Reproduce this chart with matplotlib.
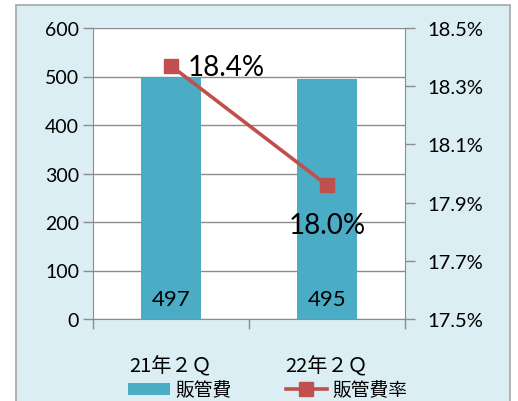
import matplotlib
matplotlib.use("Agg")
import matplotlib.pyplot as plt
from matplotlib.patches import Rectangle, Patch
from matplotlib.lines import Line2D

categories = ["21年２Ｑ", "22年２Ｑ"]
sga = [497, 495]
sga_rate = [18.37, 17.96]
legend_labels = ["販管費", "販管費率"]
left_ticks = [0, 100, 200, 300, 400, 500, 600]
right_ticks = [17.5, 17.7, 17.9, 18.1, 18.3, 18.5]

W, H = 518, 402
fig = plt.figure(figsize=(W / 100, H / 100), dpi=100)
fig.patch.set_facecolor("white")

# outer chart frame
fig.patches.append(Rectangle((15.5 / W, -0.05), (510 - 15.5) / W, (H - 6) / H + 0.05,
                             transform=fig.transFigure, facecolor="#DBEEF4",
                             edgecolor="#A6A6A6", linewidth=1.2, zorder=0))

LF = ["Lato", "Noto Sans CJK JP"]
JF = ["Noto Sans CJK JP", "DejaVu Sans"]
grid_c = "#8C8C8C"

x0, x1, ytop, ybot = 93, 405, 29, 320
ax = fig.add_axes([x0 / W, (H - ybot) / H, (x1 - x0) / W, (ybot - ytop) / H])
ax.set_facecolor("white")
ax.set_zorder(1)

xs = list(range(len(categories)))
bars = ax.bar(xs, sga, width=0.39, color="#4BACC6", zorder=2)
ax.set_xlim(-0.5, 1.5)
ax.set_ylim(0, 600)
ax.set_yticks(left_ticks)
ax.set_yticklabels([str(v) for v in left_ticks], family=LF, fontsize=14)
ax.yaxis.grid(True, color=grid_c, linewidth=1.0)
ax.set_axisbelow(True)
ax.tick_params(axis="y", length=7, width=1, color=grid_c, pad=3)
ax.set_xticks(xs)
ax.set_xticklabels(categories, family=JF, fontsize=14.5)
ax.tick_params(axis="x", which="major", length=0, pad=26)
ax.set_xticks([-0.5, 0.5, 1.5], minor=True)
ax.tick_params(axis="x", which="minor", length=7, width=1, color=grid_c)
for s in ["left", "right", "bottom"]:
    ax.spines[s].set_color(grid_c)
ax.spines["top"].set_visible(False)

for xi, v in zip(xs, sga):
    ax.annotate(str(v), (xi, 0), xytext=(0, 7.5), textcoords="offset points",
                ha="center", va="bottom", family=LF, fontsize=16, color="black", zorder=5)

ax2 = ax.twinx()
ax2.set_ylim(17.5, 18.5)
ax2.set_yticks(right_ticks)
ax2.set_yticklabels([f"{v:.1f}%" for v in right_ticks], family=LF, fontsize=14.5)
ax2.tick_params(axis="y", length=7, width=1, color=grid_c, pad=9)
for s in ["left", "right", "bottom", "top"]:
    ax2.spines[s].set_visible(False)
ax2.plot(xs, sga_rate, color="#C0504D", linewidth=2.6, marker="s", markersize=10,
         markeredgecolor="#C0504D", markerfacecolor="#C0504D", zorder=4)
ax2.annotate(f"{sga_rate[0]:.1f}%", (xs[0], sga_rate[0]), xytext=(12, -1),
             textcoords="offset points", ha="left", va="center",
             family=LF, fontsize=20, color="black")
ax2.annotate(f"{sga_rate[1]:.1f}%", (xs[1], sga_rate[1]), xytext=(0, -19),
             textcoords="offset points", ha="center", va="top",
             family=LF, fontsize=20, color="black")

handles = [Patch(facecolor="#4BACC6", edgecolor="none"),
           Line2D([0], [0], color="#C0504D", linewidth=2.6, marker="s", markersize=10)]
fig.legend(handles, legend_labels, loc="center", bbox_to_anchor=(268 / W, (H - 391) / H),
           ncol=2, frameon=False, prop={"family": JF, "size": 13.5},
           handlelength=2.2, handleheight=0.6, columnspacing=2.9, handletextpad=0.3,
           borderpad=0, borderaxespad=0)

fig.savefig("out.png", dpi=100, facecolor="white")
